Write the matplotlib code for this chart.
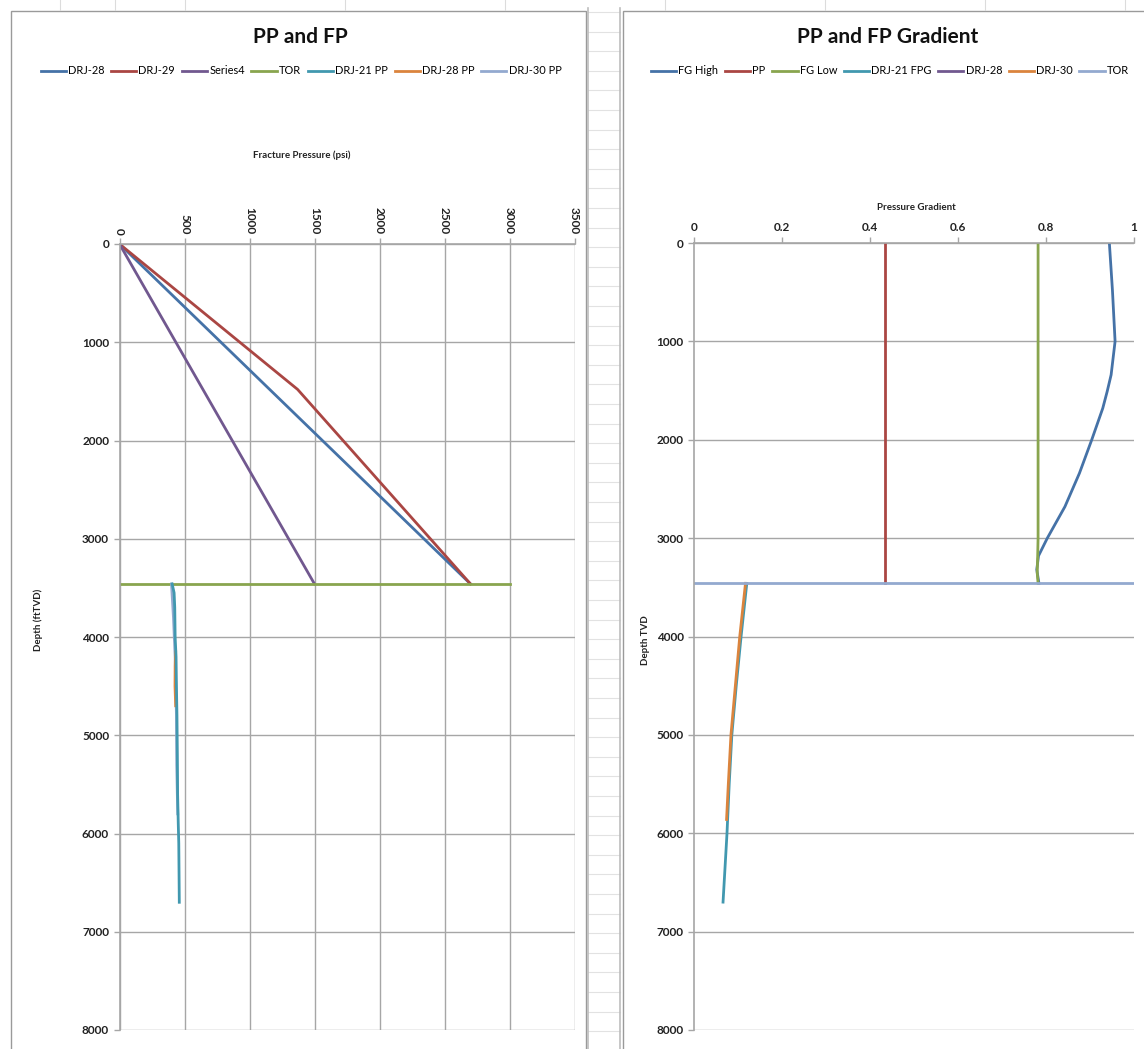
import matplotlib.pyplot as plt
from matplotlib.lines import Line2D
from matplotlib.patches import Rectangle
import numpy as np

# ---- data: PP and FP (psi vs depth ftTVD) ----
tor_depth = 3460
drj28_depth = [0, 3460]
drj28_psi = [0, 2700]
drj29_depth = [0, 1480, 3460]
drj29_psi = [0, 1370, 2700]
series4_depth = [0, 3460]
series4_psi = [0, 1500]
tor_psi = [0, 3000]
drj21pp_depth = [3460, 3550, 3700, 4000, 4200, 4500, 4800, 5200, 5600, 5900, 6100, 6400, 6700]
drj21pp_psi = [405, 420, 425, 428, 435, 438, 442, 445, 447, 452, 456, 458, 460]
drj28pp_depth = [4150, 4300, 4500, 4700]
drj28pp_psi = [432, 428, 427, 432]
drj30pp_depth = [3460, 3800, 4200, 4800, 5300, 5800]
drj30pp_psi = [400, 415, 428, 438, 440, 448]

# ---- data: PP and FP gradient (psi/ft vs depth TVD) ----
fgh_depth = [0, 480, 1000, 1340, 1510, 1680, 2000, 2340, 2680, 3000, 3180, 3320, 3460]
fgh_grad = [0.944, 0.951, 0.957, 0.948, 0.939, 0.929, 0.904, 0.876, 0.843, 0.803, 0.783, 0.779, 0.784]
pp_depth = [0, 3460]
pp_grad = [0.433, 0.433]
fgl_depth = [0, 3000, 3200, 3350, 3460]
fgl_grad = [0.782, 0.782, 0.781, 0.780, 0.782]
drj21fpg_depth = [3460, 4000, 4500, 5000, 5500, 6000, 6700]
drj21fpg_grad = [0.120, 0.107, 0.096, 0.086, 0.080, 0.075, 0.066]
drj28fpg_depth = []
drj28fpg_grad = []
drj30fpg_depth = [3460, 4000, 4500, 5000, 5500, 5860]
drj30fpg_grad = [0.117, 0.104, 0.094, 0.084, 0.078, 0.074]
tor_grad = [0, 1]

C_BLUE = '#4572A7'
C_RED = '#AA4643'
C_GREEN = '#89A54E'
C_PURPLE = '#71588F'
C_TEAL = '#4198AF'
C_ORANGE = '#DB843D'
C_LBLUE = '#93A9CF'
GRID = '#a6a6a6'

plt.rcParams['font.family'] = ['Lato', 'DejaVu Sans']

W, H = 1144, 1049
fig = plt.figure(figsize=(W / 100, H / 100), dpi=100)


def fx(px):
    return px / W


def fy(py):
    return 1 - py / H


# spreadsheet background: column strip at top and cell rows between the charts
for x in [60, 115, 185, 345, 505, 665, 825, 985, 1125]:
    fig.add_artist(Line2D([fx(x), fx(x)], [fy(0), fy(10)], color='#dcdcdc', lw=0.8))
for y in np.arange(12, H, 19.6):
    fig.add_artist(Line2D([fx(588), fx(620)], [fy(y), fy(y)], color='#e2e2e2', lw=0.8))
for x in [588, 620]:
    fig.add_artist(Line2D([fx(x), fx(x)], [0, fy(8)], color='#bdbdbd', lw=1.2))

# chart frames
fig.add_artist(Rectangle((fx(11), fy(1060)), fx(575), fy(11) - fy(1060),
                         fill=False, ec='#9a9a9a', lw=1.0))
fig.add_artist(Rectangle((fx(623), fy(1060)), fx(540), fy(11) - fy(1060),
                         fill=False, ec='#9a9a9a', lw=1.0))


def style_axes(ax, vgrid):
    ax.xaxis.tick_top()
    ax.set_ylim(8000, 0)
    ax.set_yticks(range(0, 8001, 1000))
    ax.grid(axis='y', color=GRID, lw=1.0)
    if vgrid:
        ax.grid(axis='x', color=GRID, lw=1.0)
    for s in ['bottom', 'right']:
        ax.spines[s].set_visible(False)
    for s in ['top', 'left']:
        ax.spines[s].set_color(GRID)
        ax.spines[s].set_linewidth(1.2)
    ax.tick_params(colors=GRID, labelcolor='#222222', labelsize=8.5, length=4, width=1)
    for t in ax.get_xticklabels() + ax.get_yticklabels():
        t.set_fontweight('bold')
    ax.set_axisbelow(True)


lw = 2.0
leg_kw = dict(loc='center', ncol=7, frameon=False, fontsize=7.9, handlelength=2.3,
              handletextpad=0.2, columnspacing=0.6)

# ---- left chart ----
ax1 = fig.add_axes([fx(119.5), fy(1030), fx(574.5 - 119.5), fy(244) - fy(1030)])
ax1.plot(drj28_psi, drj28_depth, color=C_BLUE, lw=lw)
ax1.plot(drj29_psi, drj29_depth, color=C_RED, lw=lw)
ax1.plot(series4_psi, series4_depth, color=C_PURPLE, lw=lw)
ax1.plot(tor_psi, [tor_depth, tor_depth], color=C_GREEN, lw=lw)
ax1.plot(drj30pp_psi, drj30pp_depth, color=C_LBLUE, lw=lw, zorder=2)
ax1.plot(drj28pp_psi, drj28pp_depth, color=C_ORANGE, lw=lw, zorder=2)
ax1.plot(drj21pp_psi, drj21pp_depth, color=C_TEAL, lw=lw, zorder=3)
ax1.set_xlim(0, 3500)
ax1.set_xticks(range(0, 3501, 500))
style_axes(ax1, True)
plt.setp(ax1.get_xticklabels(), rotation=-90, va='bottom')
ax1.tick_params(axis='x', pad=3)

h1 = [Line2D([], [], color=c, lw=2) for c in
      [C_BLUE, C_RED, C_PURPLE, C_GREEN, C_TEAL, C_ORANGE, C_LBLUE]]
l1 = ['DRJ-28', 'DRJ-29', 'Series4', 'TOR', 'DRJ-21 PP', 'DRJ-28 PP', 'DRJ-30 PP']
fig.legend(h1, l1, bbox_to_anchor=(fx(301), fy(71)), **leg_kw)
fig.text(fx(300), fy(37), 'PP and FP', ha='center', va='center',
         fontsize=15, fontweight='bold', color='#111111')
fig.text(fx(302), fy(155), 'Fracture Pressure (psi)', ha='center', va='center',
         fontsize=7, fontweight='bold', color='#222222')
fig.text(fx(38), fy(620), 'Depth (ftTVD)', ha='center', va='center', rotation=90,
         fontsize=7, fontweight='bold', color='#222222')

# ---- right chart ----
ax2 = fig.add_axes([fx(694), fy(1030), fx(1134 - 694), fy(243) - fy(1030)])
ax2.plot(fgh_grad, fgh_depth, color=C_BLUE, lw=lw)
ax2.plot(pp_grad, pp_depth, color=C_RED, lw=lw)
ax2.plot(fgl_grad, fgl_depth, color=C_GREEN, lw=lw)
ax2.plot(drj21fpg_grad, drj21fpg_depth, color=C_TEAL, lw=lw)
ax2.plot(drj28fpg_grad, drj28fpg_depth, color=C_PURPLE, lw=lw)
ax2.plot(drj30fpg_grad, drj30fpg_depth, color=C_ORANGE, lw=lw)
ax2.plot(tor_grad, [tor_depth, tor_depth], color=C_LBLUE, lw=lw)
ax2.set_xlim(0, 1)
ax2.set_xticks([0, 0.2, 0.4, 0.6, 0.8, 1])
ax2.set_xticklabels(['0', '0.2', '0.4', '0.6', '0.8', '1'])
style_axes(ax2, False)

h2 = [Line2D([], [], color=c, lw=2) for c in
      [C_BLUE, C_RED, C_GREEN, C_TEAL, C_PURPLE, C_ORANGE, C_LBLUE]]
l2 = ['FG High', 'PP', 'FG Low', 'DRJ-21 FPG', 'DRJ-28', 'DRJ-30', 'TOR']
fig.legend(h2, l2, bbox_to_anchor=(fx(890), fy(71)), **leg_kw)
fig.text(fx(888), fy(37), 'PP and FP Gradient', ha='center', va='center',
         fontsize=15, fontweight='bold', color='#111111')
fig.text(fx(916), fy(208), 'Pressure Gradient', ha='center', va='center',
         fontsize=7, fontweight='bold', color='#222222')
fig.text(fx(645), fy(640), 'Depth TVD', ha='center', va='center', rotation=90,
         fontsize=7, fontweight='bold', color='#222222')

fig.savefig('out.png', dpi=100)
